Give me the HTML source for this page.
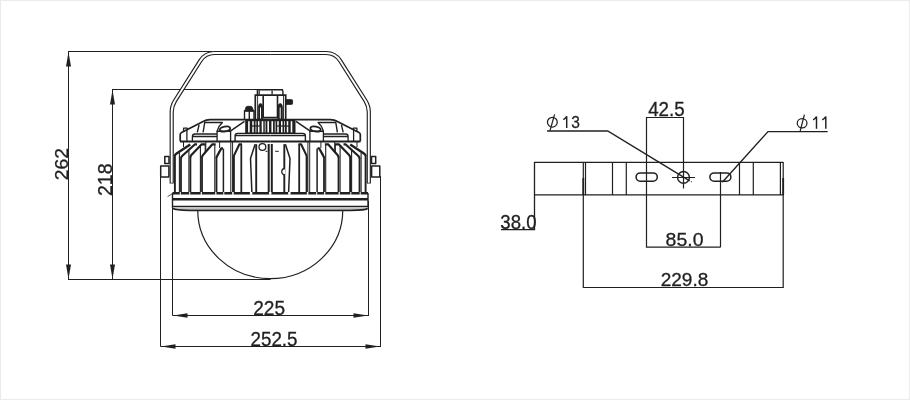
<!DOCTYPE html>
<html><head><meta charset="utf-8">
<style>
html,body{margin:0;padding:0;background:#fff;}
svg{display:block;filter:grayscale(1);}
text{font-family:"Liberation Sans",sans-serif;fill:#231f20;stroke:#231f20;stroke-width:0.3px;}
</style></head>
<body>
<svg width="910" height="400" viewBox="0 0 910 400">
<rect x="0" y="0" width="910" height="400" fill="#fff"/>
<rect x="0.5" y="0.5" width="909" height="399" fill="none" stroke="#ebebeb" stroke-width="1"/>

<!-- ===== LEFT DIMENSIONS ===== -->
<g stroke="#231f20" stroke-width="1" fill="none">
  <path d="M68,51.5 H212"/>
  <path d="M68.5,52 V279"/>
  <path d="M112,89.5 H283"/>
  <path d="M112.5,90 V279"/>
  <path d="M68,279.5 H270.5"/>
  <!-- 225 -->
  <path d="M172.5,193 V315.5 H368"/>
  <path d="M368.5,201 V316"/>
  <!-- 252.5 -->
  <path d="M160.5,166 V346.5 H380"/>
  <path d="M380.5,176 V347"/>
</g>
<g fill="#231f20">
  <polygon points="68.5,52 66,66.5 71,66.5"/>
  <polygon points="68.5,279 66,264.5 71,264.5"/>
  <polygon points="112.5,90 110,104.5 115,104.5"/>
  <polygon points="112.5,279 110,264.5 115,264.5"/>
  <polygon points="173,315.5 187.5,313.3 187.5,317.7"/>
  <polygon points="368,315.5 353.5,313.3 353.5,317.7"/>
  <polygon points="161,346.5 175.5,344.3 175.5,348.7"/>
  <polygon points="380,346.5 365.5,344.3 365.5,348.7"/>
</g>

<!-- ===== LAMP ===== -->
<g id="lamp" stroke="#231f20" fill="none" stroke-linejoin="round">
  <!-- handle -->
  <g id="hl">
    <path d="M171.7,183.5 L171.7,112 Q171.7,106.1 175,100.8 L200.4,60.7 Q205.2,53 214.5,53 L270.25,53" stroke-width="4.2"/>
    <path d="M171.7,182.7 L171.7,112 Q171.7,106.1 175,100.8 L200.4,60.7 Q205.2,53 214.5,53 L271,53" stroke="#fff" stroke-width="1.9"/>
    <!-- side brackets -->
    <rect x="164.8" y="156.4" width="4.2" height="7.2" stroke-width="1.5"/>
    <rect x="160.7" y="166" width="8.2" height="11" stroke-width="1.5"/>
    <!-- housing outline -->
    <path d="M180.2,141.2 V134.6 Q180.2,133.3 181.6,132.6 L203.6,121.3 Q206,119.6 210,119.6 H270.25" stroke-width="1.7"/>
    <path d="M183.6,131.3 V128.2 H187.3 V129.6" stroke-width="1.3"/>
    <path d="M186.9,129.8 V141" stroke-width="1.3"/>
    <path d="M197.3,132.4 L199.1,124.7 M203.1,132.4 L204.7,122.5 H222.4 Q218.6,125.7 217.1,131.2 H230.5" stroke-width="1.4"/>
    <ellipse cx="225" cy="129" rx="5.2" ry="2.5" stroke-width="1.8" transform="rotate(-10 225 129)"/>
    <path d="M230.3,131.2 L244.5,121.4" stroke-width="1.5"/>
    <path d="M217.1,131 V141 M230.6,131 V141" stroke-width="1.3"/>
    <path d="M192.4,141 V136.3 Q192.4,134 195,134 H217 M193,136.5 H217" stroke-width="1.3"/>
    <path d="M235.1,141 V136 Q235.1,133.5 237.7,133.5 H270.25 M235.6,135.6 H270.25" stroke-width="1.4"/>
    <path d="M180,141.5 H270.25" stroke-width="2.2"/>
  </g>
  <use href="#hl" transform="matrix(-1,0,0,1,540.5,0)"/>
</g>
<!-- central top -->
<g stroke="#231f20" fill="none">
  <path d="M257.4,95 V89.9 H281.5 Q282.9,89.9 282.9,91.3 V95" stroke-width="1.4"/>
  <path d="M259.2,90.5 V94.5 M272.1,90.5 V94.5" stroke-width="1.3"/>
  <path d="M255.3,119 V95.2 H285.7 V119" stroke-width="1.7"/>
  <path d="M263.2,95.5 V117.6 H277.5 V95.5" stroke-width="1.6"/><path d="M257.6,95.5 V119 M283.5,95.5 V119" stroke-width="0.9"/>
  <path d="M258.4,119 V107 Q258.6,103.6 260.5,103.6 Q262.4,103.6 262.6,107 V119 Z M278,119 V107 Q278.2,103.6 280.2,103.6 Q282.2,103.6 282.4,107 V119 Z" stroke-width="0.8" fill="#231f20"/>
  <path d="M260.5,107.5 V118.5 M280.2,107.5 V118.5" stroke="#fff" stroke-width="1"/>
  <path d="M285.8,99.6 H291.6 Q292.6,99.6 292.6,100.8 V103.2 Q292.6,104.4 291.6,104.4 H285.8 Z" stroke-width="0.8" fill="#231f20"/>
  <path d="M244.5,119 V111 H254 V119 M249.3,111 V119" stroke-width="1.4"/>
  <path d="M244.8,111 L245.8,107.6 Q246.3,106.3 247.6,106.3 H250.6 Q251.9,106.3 252.4,107.6 L253.6,111 Z" fill="#231f20" stroke-width="0.8"/>
</g>
<!-- grill -->
<rect x="245.2" y="119.8" width="50.3" height="13.4" fill="#231f20"/>
<g>
<rect x="248.10" y="121.2" width="1.6" height="11.2" fill="#fff"/>
<rect x="252.25" y="121.2" width="1.5" height="4.2" fill="#fff"/><rect x="252.25" y="126.6" width="1.5" height="5.8" fill="#fff"/>
<rect x="255.35" y="121.2" width="1.1" height="4.2" fill="#c8c8c8"/><rect x="255.35" y="126.6" width="1.1" height="5.8" fill="#c8c8c8"/>
<rect x="257.95" y="121.2" width="1.5" height="4.2" fill="#fff"/><rect x="257.95" y="126.6" width="1.5" height="5.8" fill="#fff"/>
<rect x="261.70" y="121.2" width="1.6" height="11.2" fill="#fff"/>
<rect x="264.70" y="121.2" width="1.0" height="11.2" fill="#c8c8c8"/>
<rect x="267.40" y="121.2" width="1.6" height="11.2" fill="#fff"/>
<rect x="271.45" y="121.2" width="1.6" height="11.2" fill="#fff"/>
<rect x="274.70" y="121.2" width="1.0" height="11.2" fill="#c8c8c8"/>
<rect x="277.25" y="121.2" width="1.5" height="4.2" fill="#fff"/><rect x="277.25" y="126.6" width="1.5" height="5.8" fill="#fff"/>
<rect x="281.00" y="121.2" width="1.5" height="4.2" fill="#fff"/><rect x="281.00" y="126.6" width="1.5" height="5.8" fill="#fff"/>
<rect x="284.00" y="121.2" width="1.0" height="4.2" fill="#c8c8c8"/><rect x="284.00" y="126.6" width="1.0" height="5.8" fill="#c8c8c8"/>
<rect x="286.75" y="121.2" width="1.5" height="4.2" fill="#fff"/><rect x="286.75" y="126.6" width="1.5" height="5.8" fill="#fff"/>
<rect x="290.70" y="121.2" width="1.6" height="11.2" fill="#fff"/>
</g>

<!-- fins -->
<g id="finsL" stroke="#231f20" fill="none" stroke-linejoin="round">
  <path d="M174.9,192.5 V155.5" stroke-width="1.9"/><path d="M174.9,156 Q174.9,154.6 176.2,153.8 L190.25,144.5" stroke-width="2.4"/>
  <path d="M181,192.5 V158" stroke-width="1.8"/><path d="M181,158.5 Q181,157 182.1,156 L195,144.3 H197" stroke-width="2.2"/>
  <path d="M190.4,192.5 V157" stroke-width="1.8"/><path d="M190.4,157.5 Q190.4,156 191.4,154.9 L201.7,144.3 H205.6" stroke-width="2.2"/>
  <path d="M202,192.5 V157" stroke-width="1.8"/><path d="M202,157.5 Q202,156 203,154.9 L212.4,144.3 H215.6" stroke-width="2.2"/>
  <path d="M216.5,192.5 V157.5" stroke-width="1.8"/><path d="M216.5,158 Q216.5,156.8 217.2,155.9 L221.3,148.4 H223" stroke-width="2.2"/>
  <path d="M179.4,192.5 V153 M188.9,192.5 V149.5 M200.4,192.5 V146 M205.2,144.3 V152 M214.8,144.5 V192.5" stroke-width="1.1"/>
  <path d="M223.4,148.6 V192.5" stroke-width="1.5"/>
  <path d="M183.5,141.5 V147 M205.8,141.5 V151.5 M219.6,141.5 V148" stroke-width="1"/>
  <path d="M230.8,141.5 V192.5 M232.6,141.5 V192.5" stroke-width="1"/>
  <path d="M233.8,192.5 V157 Q233.8,155.8 234.4,154.6 L239.4,144.2 H242" stroke-width="2.1"/>
  <path d="M241.3,144.2 V192.5" stroke-width="1.8"/>
  <path d="M251.9,192.5 L250.5,158.6 L255.1,144.2" stroke-width="1.5"/>
  <path d="M256.2,144.2 V192.5" stroke-width="1.9"/>
  <path d="M268.7,144 V192.5" stroke-width="2"/>
  <path d="M172.5,193.3 H270.25" stroke-width="2.4"/>
</g>
<use href="#finsL" transform="matrix(-1,0,0,1,540.5,0)"/>
<g fill="#fff">
  <rect x="179.80" y="192" width="1.0" height="2.8"/>
  <rect x="359.70" y="192" width="1.0" height="2.8"/>
  <rect x="189.20" y="192" width="1.0" height="2.8"/>
  <rect x="350.30" y="192" width="1.0" height="2.8"/>
  <rect x="200.70" y="192" width="1.2" height="2.8"/>
  <rect x="338.60" y="192" width="1.2" height="2.8"/>
  <rect x="215.20" y="192" width="1.2" height="2.8"/>
  <rect x="324.10" y="192" width="1.2" height="2.8"/>
  <rect x="223.30" y="192" width="1.0" height="2.8"/>
  <rect x="316.20" y="192" width="1.0" height="2.8"/>
  <rect x="232.15" y="192" width="1.5" height="2.8"/>
  <rect x="306.85" y="192" width="1.5" height="2.8"/>
  <rect x="249.90" y="192" width="2.4" height="2.8"/>
  <rect x="288.20" y="192" width="2.4" height="2.8"/>
  <rect x="269.05" y="192" width="2.4" height="2.8"/>
</g>
<g stroke="#231f20" fill="none">
  <circle cx="262.4" cy="147" r="3.4" stroke-width="1.3" fill="#fff"/>
  <path d="M265.5,151.3 H267.5 M275.2,151.3 H278.7" stroke-width="1"/>
  <path d="M285,168.5 A3.2,3.2 0 0 0 285,175" stroke-width="1.3" fill="#fff"/>
</g>
<!-- lower band -->
<g stroke="#231f20" fill="none">
  <path d="M172.5,193 V208 M368,193 V208" stroke-width="1.4"/>
  <path d="M167.6,196.6 L172.4,193.6" stroke-width="0.8"/>
  <path d="M172.5,199.2 H368" stroke-width="2.6"/>
  <rect x="173" y="206.6" width="194.5" height="2.6" fill="#c4c4c4" stroke="none"/>
  <path d="M172.5,206.4 H368" stroke-width="1.2"/>
  <path d="M173,208.4 Q175,210.3 190,210.3 H350 Q366,210.3 367.8,208.4" stroke-width="1.8"/>
  <path d="M197.75,210.2 A72.5,68.4 0 0 0 342.75,210.2" stroke-width="1.2"/>
</g>

<!-- ===== RIGHT DRAWING ===== -->
<g stroke="#231f20" stroke-width="1.2" fill="none">
  <path d="M534,162.3 H783.2" stroke-width="1.3"/><path d="M534,194.9 H783.2" stroke-width="1.4"/>
  <path d="M534.5,162 V229.6 H501" stroke-width="1.3"/>
  <path d="M583.3,162 V288 M585.5,162.5 V195"/>
  <path d="M612.5,162.5 V195 M626.3,162.5 V195 M739.5,162.5 V195 M753.3,162.5 V195"/>
  <path d="M780.4,162.5 V195 M783.2,162 V288"/>
  <path d="M583.3,287.5 H783.2"/>
  <path d="M583.3,178 V195 M783.2,178 V195" stroke-width="1.8"/>
  <rect x="636.1" y="172.9" width="21.2" height="8.4" rx="4.2" stroke-width="1.5"/>
  <rect x="709.9" y="172.9" width="21" height="8.4" rx="4.2" stroke-width="1.5"/>
  <circle cx="683.5" cy="177.4" r="5.9" stroke-width="1.4"/>
  <path d="M672,177.5 H695 M683.5,117 V188.5"/>
  <path d="M646.5,117.5 H683.5 M646.5,117 V247.2 H720.5 M720.5,172 V247.2"/>
  <path d="M547,131 H607.7 L689.7,180.8" stroke-width="1.4"/><circle cx="691.4" cy="181.7" r="0.6" fill="#555" stroke="none"/>
  <path d="M827.7,131.6 H768 L722.3,182.3" stroke-width="1.4"/>
</g>
<g stroke="#231f20" fill="none" stroke-width="1.25">
  <ellipse cx="552.35" cy="122.2" rx="4.9" ry="4.85"/>
  <path d="M554.6,114.3 L550,130.6"/>
  <ellipse cx="802.1" cy="123.2" rx="4.85" ry="4.6"/>
  <path d="M804.4,114.7 L800.15,131.2"/>
</g>
<g id="texts">
<text transform="translate(67.81,180.37) rotate(-90) scale(1.0184,1)" font-size="19.01">262</text>
<text transform="translate(111.81,196.08) rotate(-90) scale(1.0168,1)" font-size="19.30">218</text>
<text transform="translate(253.14,314.81) scale(0.9904,1)" font-size="19.30">225</text>
<text transform="translate(250.46,345.80) scale(0.9622,1)" font-size="19.58">252.5</text>
<text transform="translate(648.13,116.21) scale(0.9731,1)" font-size="19.30">42.5</text>
<text transform="translate(665.62,245.81) scale(1.0236,1)" font-size="19.01">85.0</text>
<text transform="translate(660.65,286.11) scale(1.0091,1)" font-size="18.87">229.8</text>
<text transform="translate(500.36,228.51) scale(0.9573,1)" font-size="19.44">38.0</text>
<text transform="translate(571.18,127.83) scale(0.8966,1)" font-size="17.32">3</text>
<g stroke="#231f20" stroke-width="1.45" fill="none" stroke-linejoin="miter">
  <path d="M566.7,128 V116.2 Q565.5,118.6 563.3,119.6"/>
  <path d="M816.5,128.7 V116.5 Q815.3,118.9 813.1,119.9"/>
  <path d="M825.8,128.7 V116.5 Q824.6,118.9 822.2,119.9"/>
</g>
</g>
</svg>
</body></html>
